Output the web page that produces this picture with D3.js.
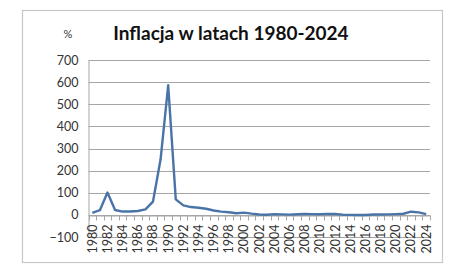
<!DOCTYPE html>
<html><head><meta charset="utf-8">
<script src="https://cdn.jsdelivr.net/npm/d3@7"></script>
<style>body{margin:0;background:#fff}svg{display:block}</style>
</head><body>
<script>
const years = d3.range(1980, 2025);
const inflation = [9.4,21.2,100.8,22.1,15.0,15.1,17.7,25.2,60.2,251.1,585.8,70.3,43.0,35.3,32.2,27.8,19.9,14.9,11.8,7.3,10.1,5.5,1.9,0.8,3.5,2.1,1.0,2.5,4.2,3.5,2.6,4.3,3.7,0.9,0.0,-0.9,-0.6,2.0,1.6,2.3,3.4,5.1,14.4,11.4,3.6];
const yTicks = [-100,0,100,200,300,400,500,600,700];
const titleText = "Inflacja w latach 1980-2024";
const unitText = "%";

const W = 474, H = 280;
const svg = d3.select("body").append("svg").attr("width", W).attr("height", H);
const font = "Lato, 'Open Sans', sans-serif";

svg.append("rect").attr("x", 22.5).attr("y", 10.5).attr("width", 420).attr("height", 252)
  .attr("fill", "#fff").attr("stroke", "#c6c6c6").attr("stroke-width", 1.2);

const x = d3.scaleBand().domain(years).range([88.5, 430]).padding(0);
const y = d3.scaleLinear().domain([-100, 700]).range([237, 60]);

// gridlines
svg.append("g").selectAll("line").data(yTicks).join("line")
  .attr("x1", 88.5).attr("x2", 430)
  .attr("y1", d => Math.round(y(d)) + 0.5).attr("y2", d => Math.round(y(d)) + 0.5)
  .attr("stroke", "#a6a6a6").attr("stroke-width", 1);

// y axis
const yAxis = d3.axisLeft(y).tickValues(yTicks).tickSize(0).tickPadding(10);
const gy = svg.append("g").attr("transform", "translate(88.5,0)").call(yAxis);
gy.select(".domain").attr("stroke", "#a6a6a6");
gy.selectAll("text").attr("font-family", font).attr("font-size", 12.5).attr("fill", "#333");

// x axis at 0
const xAxis = d3.axisBottom(x).tickSize(0).tickFormat(d => d % 2 === 0 ? d : "");
const gx = svg.append("g").attr("transform", `translate(0,${Math.round(y(0)) + 0.5})`).call(xAxis);
gx.select(".domain").attr("stroke", "#a6a6a6");
gx.selectAll("text").attr("font-family", font).attr("font-size", 12.5).attr("fill", "#333")
  .attr("transform", "rotate(-90)").attr("text-anchor", "end")
  .attr("x", -9).attr("y", 0).attr("dy", "0.35em");
// tick marks at band boundaries
const bounds = years.map(d => x(d)).concat([x(years[years.length-1]) + x.bandwidth()]);
gx.append("g").selectAll("line").data(bounds).join("line")
  .attr("x1", d => Math.round(d) + 0.5).attr("x2", d => Math.round(d) + 0.5)
  .attr("y1", 0).attr("y2", 5).attr("stroke", "#a6a6a6");

// line
const line = d3.line().x((d, i) => x(years[i]) + x.bandwidth() / 2).y(d => y(d));
svg.append("path").datum(inflation).attr("d", line)
  .attr("fill", "none").attr("stroke", "#4a74a8").attr("stroke-width", 2.4)
  .attr("stroke-linejoin", "round");

svg.append("text").attr("x", 231).attr("y", 40).attr("text-anchor", "middle")
  .attr("font-family", font).attr("font-weight", "bold").attr("font-size", 19)
  .attr("fill", "#111").text(titleText);
svg.append("text").attr("x", 68).attr("y", 38).attr("text-anchor", "middle")
  .attr("font-family", font).attr("font-size", 11).attr("fill", "#333").text(unitText);
</script>
</body></html>
